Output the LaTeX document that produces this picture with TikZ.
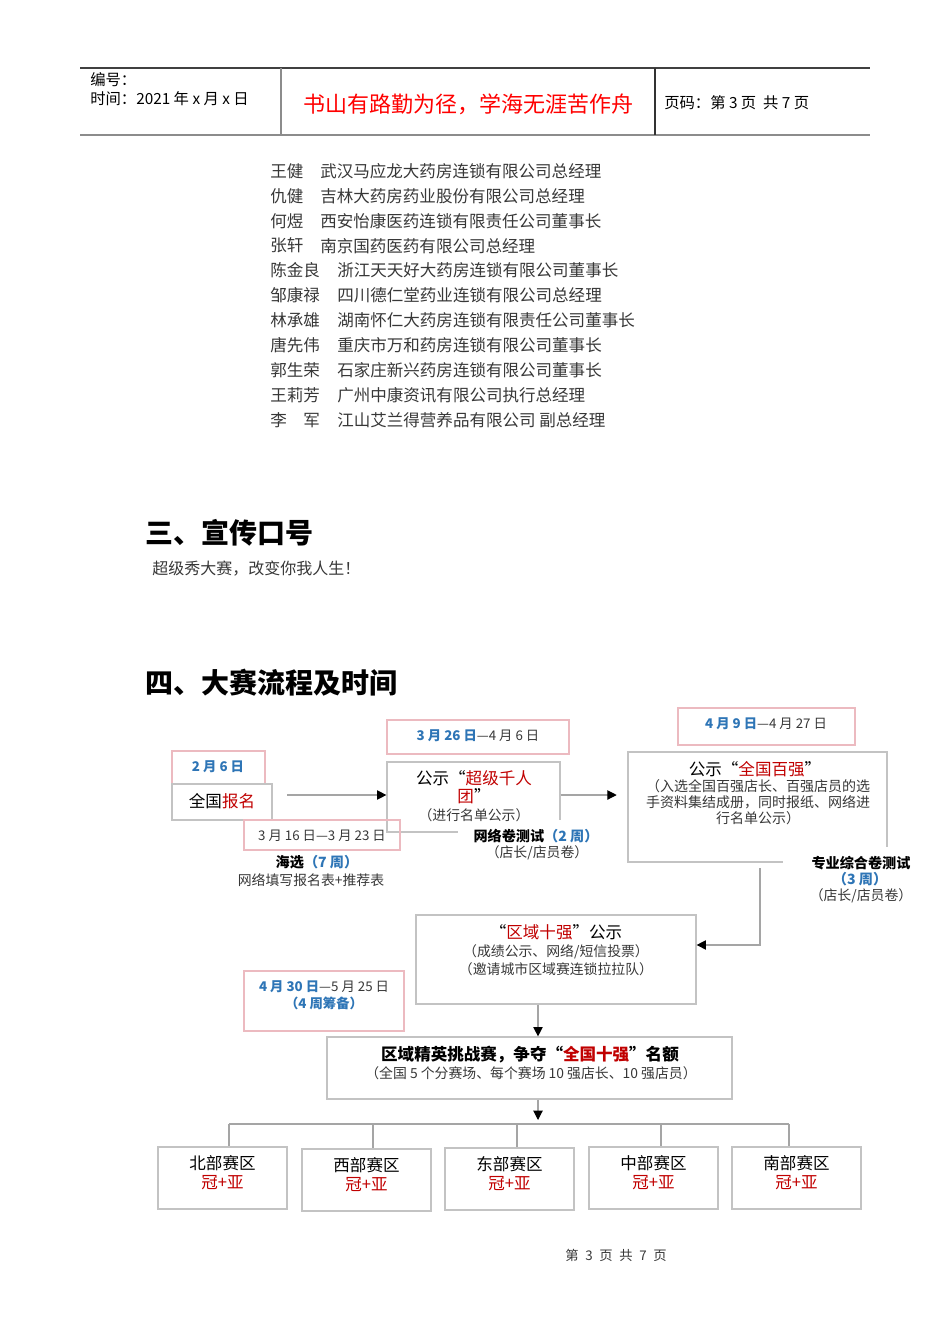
\documentclass[tikz,border=0pt]{standalone}
\usepackage{fontspec}
\setmainfont{Noto Sans CJK SC}
\usepackage{tikz}
\usetikzlibrary{arrows.meta,positioning,calc,fit}
\usepackage{xcolor}
\definecolor{titlered}{RGB}{255,0,0}
\definecolor{keyred}{RGB}{192,0,0}
\definecolor{dateblue}{RGB}{46,117,182}
\definecolor{framepink}{RGB}{236,186,192}
\definecolor{framegray}{RGB}{195,195,195}
\definecolor{linegray}{RGB}{165,165,165}
\definecolor{textgray}{RGB}{55,55,55}

\newcommand{\redkw}[1]{\textcolor{keyred}{#1}}
\newcommand{\bluedate}[1]{\textcolor{dateblue}{\bfseries #1}}

\tikzset{
  stagebox/.style={draw=framegray,line width=0.9pt,inner sep=0pt},
  datebox/.style={draw=framepink,line width=0.9pt,inner sep=0pt},
  coverbox/.style={fill=white,inner sep=0pt},
  conn/.style={draw=linegray,line width=0.8pt},
  flowarrow/.style={conn,-{Triangle[length=7pt,width=7pt,color=black]}},
  bigtxt/.style={font=\fontsize{12.4}{13.6}\selectfont,inner sep=0pt,align=center},
  smalltxt/.style={font=\fontsize{10.4}{13.2}\selectfont,inner sep=0pt,align=center,text=textgray},
  tagtxt/.style={font=\fontsize{10.6}{12.6}\selectfont\bfseries,inner sep=0pt,align=center},
  datetxt/.style={font=\fontsize{10}{12.8}\selectfont,inner sep=0pt,align=center,text=textgray},
  listtxt/.style={font=\fontsize{12.4}{14}\selectfont,inner sep=0pt,anchor=west,text=textgray},
  headtxt/.style={font=\fontsize{21}{24}\selectfont\bfseries,inner sep=0pt,anchor=west},
}

\begin{document}
\begin{tikzpicture}[x=0.75pt,y=-0.75pt]
    \useasboundingbox (0,0) rectangle (950,1344);
    % page header
    \draw[black!75,line width=0.8pt] (80,68) -- (870,68);
    \draw[black!45,line width=1.6pt] (80,135) -- (870,135);
    \draw[black!45,line width=0.9pt] (281,68) -- (281,135);
    \draw[black!80,line width=0.8pt] (655,68) -- (655,135);
    \node[font=\fontsize{11.5}{13}\selectfont,inner sep=0pt,anchor=west] (hno) at (90,80) {编号：};
    \node[font=\fontsize{11.5}{13}\selectfont,inner sep=0pt,anchor=west] (hdate) at (90,99) {时间：2021 年 x 月 x 日};
    \node[font=\fontsize{16.5}{18}\selectfont,inner sep=0pt,text=titlered] (htitle) at (468,104) {书山有路勤为径，学海无涯苦作舟};
    \node[font=\fontsize{11.5}{13}\selectfont,inner sep=0pt,anchor=west] (hpage) at (664,103) {页码：第 3 页~ 共 7 页};
    % judges
    \foreach \nm/\cx/\co [count=\i from 0] in {王健/320/武汉马应龙大药房连锁有限公司总经理, 仇健/320/吉林大药房药业股份有限公司总经理, 何煜/320/西安怡康医药连锁有限责任公司董事长, 张轩/320/南京国药医药有限公司总经理, 陈金良/337/浙江天天好大药房连锁有限公司董事长, 邹康禄/337/四川德仁堂药业连锁有限公司总经理, 林承雄/337/湖南怀仁大药房连锁有限责任公司董事长, 唐先伟/337/重庆市万和药房连锁有限公司董事长, 郭生荣/337/石家庄新兴药房连锁有限公司董事长, 王莉芳/337/广州中康资讯有限公司执行总经理, 李　军/337/江山艾兰得营养品有限公司 副总经理} {
      \node[listtxt] (nm\i) at (270,{171+24.9*\i}) {\nm};
      \node[listtxt] (co\i) at (\cx,{171+24.9*\i}) {\co};
    }
    \node[headtxt] (sec3) at (145,533) {三、宣传口号};
    \node[font=\fontsize{12}{14}\selectfont,inner sep=0pt,anchor=west,text=textgray] (slogan) at (152,569) {超级秀大赛，改变你我人生！};
    \node[headtxt] (sec4) at (145,683) {四、大赛流程及时间};
    % flow boxes
    \node[datebox,fit={(172,751) (265,784)}] (d1) {};
    \node[stagebox,fit={(172,784) (272,820)}] (bm) {};
    \node[datebox,fit={(387,720) (569,754)}] (d2) {};
    \node[stagebox,fit={(387,762) (560,832)}] (qrt) {};
    \node[datebox,fit={(244,820) (400,850)}] (d3) {};
    \node[coverbox,fit={(458,820) (612,864)}] (wlc) {};
    \node[datebox,fit={(678,708) (855,745)}] (d4) {};
    \node[stagebox,fit={(628,752) (887,862)}] (qbq) {};
    \node[coverbox,fit={(783,847) (936,906)}] (zhc) {};
    \node[stagebox,fit={(416,915) (696,1004)}] (qsq) {};
    \node[datebox,fit={(244,971) (404,1031)}] (d5) {};
    \node[stagebox,fit={(327,1037) (732,1099)}] (jy) {};
    % texts
    \node[datetxt] (d1t) at (218,767) {\bluedate{2 月 6 日}};
    \node[bigtxt] (bmt) at (222,801) {全国\redkw{报名}};
    \node[datetxt] (d2t) at (478,736) {\bluedate{3 月 26 日}—4 月 6 日};
    \node[bigtxt] (qrtt) at (474,787) {公示“\redkw{超级千人}\\\redkw{团}”};
    \node[smalltxt] (qrts) at (474,815) {（进行名单公示）};
    \node[datetxt] (d3t) at (322,836) {3 月 16 日—3 月 23 日};
    \node[tagtxt] (hxt) at (317,862) {海选\bluedate{（7 周）}};
    \node[smalltxt] (hxs) at (311,880) {网络填写报名表+推荐表};
    \node[tagtxt] (wlt) at (536,836) {网络卷测试\bluedate{（2 周）}};
    \node[smalltxt] (wls) at (537,853) {（店长/店员卷）};
    \node[datetxt] (d4t) at (766,724) {\bluedate{4 月 9 日}—4 月 27 日};
    \node[bigtxt] (qbqt) at (755,769) {公示“\redkw{全国百强}”};
    \node[smalltxt,font=\fontsize{10.5}{12}\selectfont] (qbqs) at (758,802) {（入选全国百强店长、百强店员的选\\手资料集结成册，同时报纸、网络进\\行名单公示）};
    \node[tagtxt] (zht) at (861,863) {专业综合卷测试};
    \node[tagtxt] (zhw) at (860,879) {\bluedate{（3 周）}};
    \node[smalltxt] (zhs) at (861,896) {（店长/店员卷）};
    \node[bigtxt] (qsqt) at (556,932) {“\redkw{区域十强}”公示};
    \node[smalltxt] (qsqs) at (556,960) {（成绩公示、网络/短信投票）\\（邀请城市区域赛连锁拉拉队）};
    \node[datetxt] (d5t) at (324,995) {\bluedate{4 月 30 日}—5 月 25 日\\\bluedate{（4 周筹备）}};
    \node[bigtxt,font=\fontsize{12.4}{14}\selectfont\bfseries] (jyt) at (530,1055) {区域精英挑战赛，争夺“\redkw{全国十强}”名额};
    \node[smalltxt] (jys) at (531,1073) {（全国 5 个分赛场、每个赛场 10 强店长、10 强店员）};
    % connectors
    \coordinate (a0) at (287,795);
    \coordinate (c3) at (760,868);
    \coordinate (axis) at (538,0);
    \coordinate (treel) at (229,1124);
    \coordinate (treer) at (789,1124);
    \draw[flowarrow] (a0) -- (a0 -| qrt.west);
    \draw[flowarrow,shorten >=8pt] (a0 -| qrt.east) -- (a0 -| qbq.west);
    \draw[flowarrow] (c3) |- ([yshift=10.9pt]qsq.east);
    \draw[flowarrow] (qsq.south -| axis) -- (jy.north -| axis);
    \draw[flowarrow,shorten >=3pt] (jy.south -| axis) -- (treel -| axis);
    \draw[conn] (treel) -- (treer);
    % regions
    \foreach \rn/\xa/\ya/\vx/\rg in {bei/158/1147/229/北部赛区, xi/302/1149/373/西部赛区, dong/445/1148/517/东部赛区, zhong/589/1147/661/中部赛区, nan/732/1147/789/南部赛区} {
      \node[stagebox,fit={(\xa,\ya) ({\xa+129},{\ya+62})}] (\rn) {};
      \node[bigtxt] (\rn-t) at ($(\rn.north)+(0,17)$) {\rg};
      \node[bigtxt,text=keyred] (\rn-p) at ($(\rn.north)+(0,36)$) {冠+亚};
      \draw[conn] (treel -| \vx,0) -- (\vx,0 |- \rn.north);
    }
    \node[font=\fontsize{10}{12}\selectfont,inner sep=0pt,text=textgray] (pgno) at (616,1255) {第\enspace 3\enspace 页\enspace 共\enspace 7\enspace 页};
  \end{tikzpicture}
\end{document}
